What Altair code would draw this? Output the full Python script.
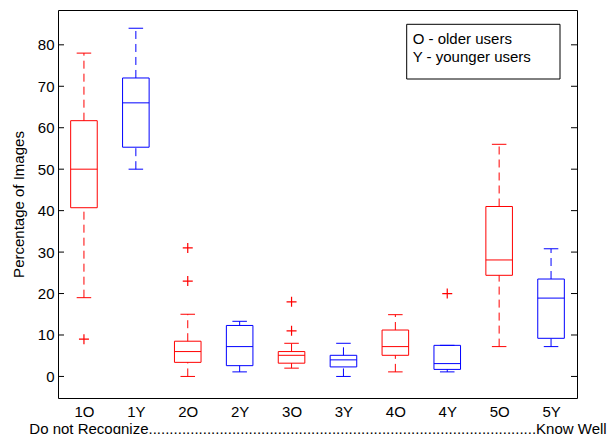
import json
import altair as alt
import pandas as pd

# Box plot summary per condition (percentage of images)
labels = ["1O", "1Y", "2O", "2Y", "3O", "3Y", "4O", "4Y", "5O", "5Y"]
groups = ["O", "Y", "O", "Y", "O", "Y", "O", "Y", "O", "Y"]
lower_whisker = [19, 50, 0, 1.1, 2, 0, 1.1, 1.1, 7.2, 7.2]
q1 = [40.7, 55.3, 3.4, 2.6, 3.2, 2.3, 5.1, 1.7, 24.4, 9.2]
medians = [50, 66, 6, 7.2, 5.1, 4.0, 7.2, 3.1, 28.1, 18.9]
q3 = [61.7, 72, 8.5, 12.3, 6.0, 5.1, 11.2, 7.5, 41, 23.5]
upper_whisker = [78, 84, 15, 13.3, 8, 8, 14.9, 7.5, 56, 30.8]

# Outliers: (box index, value)
outlier_box = [1, 3, 3, 5, 5, 8]
outlier_val = [9, 31, 23, 18, 11, 20]

y_ticks = [0, 10, 20, 30, 40, 50, 60, 70, 80]
legend_lines = ["O - older users", "Y - younger users"]
x_title = "Do not Recognize" + "." * 93 + "Know Well"
y_title = "Percentage of Images"

W, H = 519, 388
FONT = "Liberation Sans"
FS = 15
BOX_HALF = 0.256
CAP_HALF = 0.14
DASH = [8, 5]

df = pd.DataFrame({
    "pos": list(range(1, len(labels) + 1)),
    "label": labels,
    "group": groups,
    "lo": lower_whisker,
    "q1": q1,
    "med": medians,
    "q3": q3,
    "hi": upper_whisker,
})
out_df = pd.DataFrame({"pos": outlier_box, "val": outlier_val})
tick_df = pd.DataFrame({"t": y_ticks})
one = pd.DataFrame({"k": [0]})

xscale = alt.Scale(domain=[0.5, 10.5], nice=False, zero=False)
yscale = alt.Scale(domain=[-5.2, 88.4], nice=False, zero=False)
color = alt.Color("group:N", scale=alt.Scale(domain=["O", "Y"], range=["#ff0000", "#0000ff"]), legend=None)

label_expr = json.dumps(labels) + "[datum.value - 1]"

x_axis = alt.Axis(
    values=list(range(1, len(labels) + 1)), labelExpr=label_expr,
    ticks=False, tickSize=0, domain=False, grid=False,
    labelFont=FONT, labelFontSize=FS, labelColor="#000000",
    labelBaseline="alphabetic", labelPadding=18.7,
    title=x_title, titleFont=FONT, titleFontSize=FS, titleFontWeight="normal",
    titleColor="#000000", titleBaseline="alphabetic", titleY=35,
)
y_axis = alt.Axis(
    values=y_ticks, ticks=False, tickSize=0, domain=False, grid=False,
    labelFont=FONT, labelFontSize=FS, labelColor="#000000", labelPadding=4,
    title=y_title, titleFont=FONT, titleFontSize=FS, titleFontWeight="normal",
    titleColor="#000000", titleBaseline="middle", titleX=-39.5,
)

base = alt.Chart(df).transform_calculate(
    b1=f"datum.pos - {BOX_HALF}", b2=f"datum.pos + {BOX_HALF}",
    c1=f"datum.pos - {CAP_HALF}", c2=f"datum.pos + {CAP_HALF}",
)

X = alt.X("pos:Q", scale=xscale, axis=x_axis)

boxes = base.mark_rect(fillOpacity=0, strokeWidth=1).encode(
    x=alt.X("b1:Q", scale=xscale, axis=x_axis), x2="b2:Q",
    y=alt.Y("q1:Q", scale=yscale, axis=y_axis), y2="q3:Q",
    stroke=color,
)
median_lines = base.mark_rule(strokeWidth=1).encode(
    x=alt.X("b1:Q", scale=xscale), x2="b2:Q",
    y=alt.Y("med:Q", scale=yscale), color=color,
)
upper_w = base.mark_rule(strokeWidth=1, strokeDash=DASH).encode(
    x=alt.X("pos:Q", scale=xscale), y=alt.Y("q3:Q", scale=yscale), y2="hi:Q", color=color,
)
lower_w = base.mark_rule(strokeWidth=1, strokeDash=DASH).encode(
    x=alt.X("pos:Q", scale=xscale), y=alt.Y("lo:Q", scale=yscale), y2="q1:Q", color=color,
)
upper_cap = base.mark_rule(strokeWidth=1).encode(
    x=alt.X("c1:Q", scale=xscale), x2="c2:Q", y=alt.Y("hi:Q", scale=yscale), color=color,
)
lower_cap = base.mark_rule(strokeWidth=1).encode(
    x=alt.X("c1:Q", scale=xscale), x2="c2:Q", y=alt.Y("lo:Q", scale=yscale), color=color,
)
outliers = alt.Chart(out_df).mark_point(
    shape="M-1,0L1,0M0,-1L0,1", filled=False, size=100, strokeWidth=1.2, color="#ff0000", opacity=1,
).encode(x=alt.X("pos:Q", scale=xscale), y=alt.Y("val:Q", scale=yscale))

# inward tick marks on left and right frame edges
ticks_left = alt.Chart(tick_df).mark_rule(color="#000000", strokeWidth=1).encode(
    x=alt.value(0), x2=alt.value(6), y=alt.Y("t:Q", scale=yscale),
)
ticks_right = alt.Chart(tick_df).mark_rule(color="#000000", strokeWidth=1).encode(
    x=alt.value(W - 6), x2=alt.value(W), y=alt.Y("t:Q", scale=yscale),
)

legend_box = alt.Chart(one).mark_rect(fill="#ffffff", stroke="#000000", strokeWidth=1).encode(
    x=alt.value(348.7), x2=alt.value(502), y=alt.value(14.3), y2=alt.value(69),
)
legend_t1 = alt.Chart(one).mark_text(
    align="left", baseline="alphabetic", font=FONT, fontSize=FS, color="#000000",
).encode(x=alt.value(354.7), y=alt.value(34), text=alt.value(legend_lines[0]))
legend_t2 = alt.Chart(one).mark_text(
    align="left", baseline="alphabetic", font=FONT, fontSize=FS, color="#000000",
).encode(x=alt.value(354.7), y=alt.value(51.7), text=alt.value(legend_lines[1]))

chart = alt.layer(
    boxes, upper_w, lower_w, upper_cap, lower_cap, median_lines, outliers,
    ticks_left, ticks_right, legend_box, legend_t1, legend_t2,
).properties(
    width=W, height=H,
    autosize=alt.AutoSizeParams(type="none"),
    padding={"left": 58, "top": 10, "right": 31, "bottom": 36},
    background="#ffffff",
).configure_view(stroke="#000000", strokeWidth=1)

chart.save("out.html", embed_options={"renderer": "svg", "actions": False})
